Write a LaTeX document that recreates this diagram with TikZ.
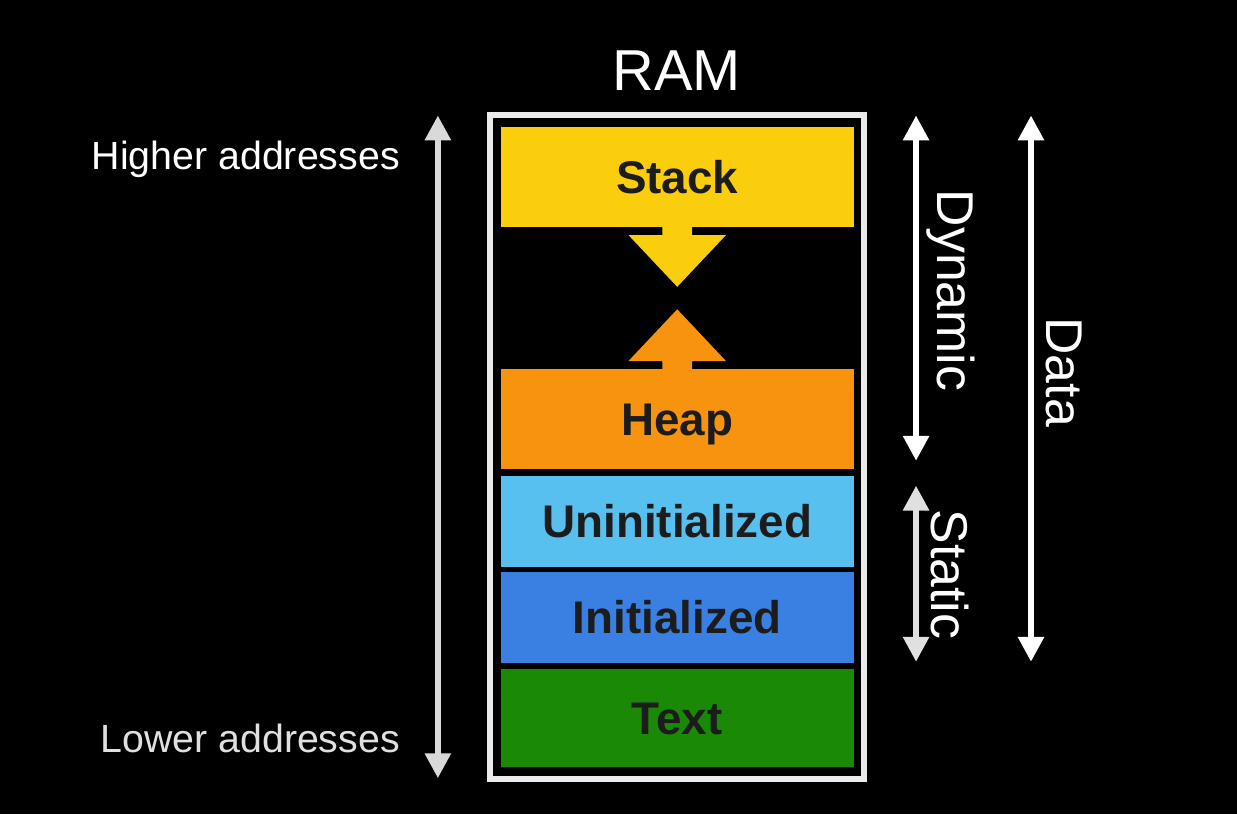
\documentclass[tikz,border=0pt]{standalone}
\usepackage{fontspec}
\setmainfont{Liberation Sans}
\usetikzlibrary{arrows.meta}

\definecolor{stackcol}{RGB}{250,206,12}
\definecolor{heapcol}{RGB}{247,147,15}
\definecolor{uninitcol}{RGB}{88,192,238}
\definecolor{initcol}{RGB}{58,128,226}
\definecolor{textcol}{RGB}{26,138,6}
\definecolor{inkcol}{RGB}{28,28,28}

\begin{document}
\begin{tikzpicture}[
    x=1pt, y=-1pt,
    segmento/.style={rectangle, inner sep=0pt, minimum width=355pt, text=inkcol,
        font=\fontsize{46}{50}\selectfont\bfseries, text height=33pt, text depth=0pt},
    freccia/.style={white, line width=6pt, {Triangle[width=25pt,length=25pt]}-{Triangle[width=25pt,length=25pt]}},
    etichetta/.style={text=white, inner sep=0pt, font=\fontsize{39.5}{44}\selectfont},
    verticale/.style={text=white, inner sep=0pt, rotate=-90, font=\fontsize{52}{56}\selectfont}
]

    % 1. Sfondo e cornice
    \fill[black] (-3,-3) rectangle (1240,815);
    \useasboundingbox (0,0) rectangle (1237,812);
    \node[text=white, font=\fontsize{58}{62}\selectfont] (ram) at (677,68) {RAM};
    \draw[white!92!black, line width=6pt] (489.5,113) rectangle (865,780);

    % 2. Segmenti della memoria
    \node[segmento, fill=stackcol,  minimum height=100pt] (stack)  at (677.5,175)   {Stack};
    \node[segmento, fill=heapcol,   minimum height=100pt] (heap)   at (677.5,418)   {Heap};
    \node[segmento, fill=uninitcol, minimum height=92pt]  (uninit) at (677.5,521)   {Uninitialized};
    \node[segmento, fill=initcol,   minimum height=91pt]  (init)   at (677.5,617.5) {Initialized};
    \node[segmento, fill=textcol,   minimum height=99pt]  (testo)  at (677.5,718.5) {Text};

    % 3. Frecce di crescita (stack verso il basso, heap verso l'alto)
    \fill[stackcol] (stack.south) ++(-15,0) -- ++(0,8) -- ++(-34,0) -- ++(49,52)
        -- ++(49,-52) -- ++(-34,0) -- ++(0,-8) -- cycle;
    \fill[heapcol] (heap.north) ++(-15,0) -- ++(0,-8) -- ++(-34,0) -- ++(49,-52)
        -- ++(49,52) -- ++(-34,0) -- ++(0,8) -- cycle;

    % 4. Indirizzi
    \coordinate (alto)  at (437,113);
    \coordinate (basso) at (437,779);
    \draw[freccia, white!85!black] (basso) -- (alto);
    \node[etichetta, anchor=east] (higher) at (399,157) {Higher addresses};
    \node[etichetta, anchor=east, text=white!88!black] (lower) at (399,739) {Lower addresses};

    % 5. Dynamic, Static, Data
    \coordinate (dinA) at (917.5,113);
    \coordinate (dinB) at (917.5,460);
    \coordinate (staA) at (917.5,485);
    \coordinate (staB) at (917.5,662);
    \coordinate (datA) at (1033,113);
    \coordinate (datB) at (1033,662);
    \draw[freccia] (dinA) -- (dinB);
    \draw[freccia, white!88!black] (staA) -- (staB);
    \draw[freccia] (datA) -- (datB);
    \node[verticale] (dynamic) at (952,289) {Dynamic};
    \node[verticale] (static)  at (952,574) {Static};
    \node[verticale] (data)    at (1066,371) {Data};

\end{tikzpicture}
\end{document}
